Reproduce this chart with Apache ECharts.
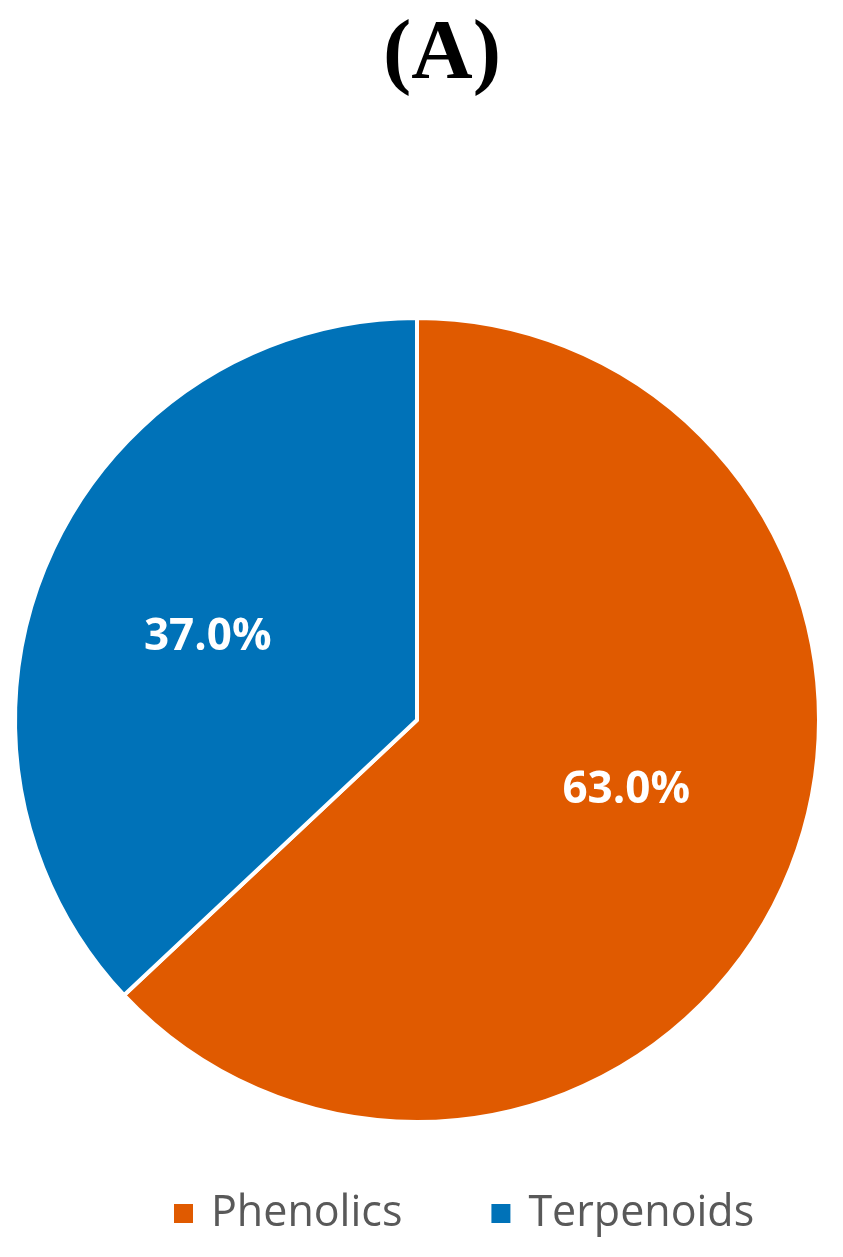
<!DOCTYPE html>
<html><head><meta charset="utf-8">
<script src="https://cdn.jsdelivr.net/npm/echarts@6/dist/echarts.min.js"></script>
<style>html,body{margin:0;padding:0;background:#fff}#c{width:843px;height:1257px}</style>
</head><body><div id="c"></div>
<script>
const categories = ['Phenolics', 'Terpenoids'];
const values = [63.0, 37.0];
const colors = ['#E05A00', '#0072B8'];
const titleText = '(A)';

const chart = echarts.init(document.getElementById('c'), null, {renderer: 'canvas'});
const offsets = [[22, -11], [-22, -2]];
chart.setOption({
  animation: false,
  title: {
    text: titleText, left: 378, top: 9,
    textStyle: {fontFamily: 'Liberation Serif', fontWeight: 'bold', fontSize: 85, color: '#000'}
  },
  legend: {
    data: categories, left: 167, top: 1187,
    itemWidth: 21, itemHeight: 21, itemGap: 87,
    icon: 'rect',
    textStyle: {fontFamily: 'Open Sans', fontSize: 43, color: '#595959', padding: [0, 0, 0, 12]}
  },
  series: [{
    type: 'pie',
    center: [417, 720],
    radius: 402,
    startAngle: 90,
    clockwise: true,
    itemStyle: {borderColor: '#fff', borderWidth: 4},
    label: {
      position: 'inside', color: '#fff', fontFamily: 'Open Sans', fontWeight: 'bold', fontSize: 44,
      formatter: p => p.value.toFixed(1) + '%'
    },
    labelLine: {show: false},
    emphasis: {disabled: true},
    data: categories.map((n, i) => ({
      name: n, value: values[i], itemStyle: {color: colors[i]},
      label: {offset: offsets[i]}
    }))
  }]
});
</script></body></html>
